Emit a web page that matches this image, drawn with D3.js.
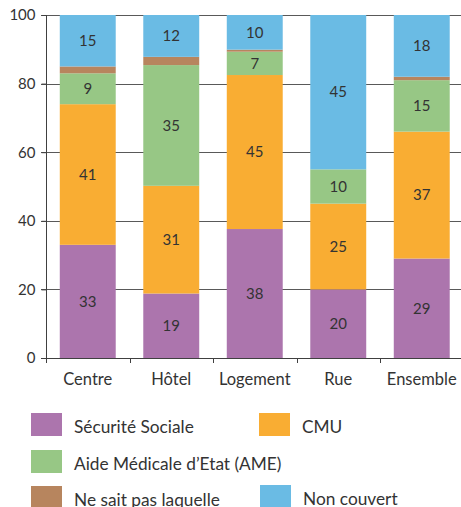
<!DOCTYPE html>
<html>
<head>
<meta charset="utf-8">
<script src="https://cdn.jsdelivr.net/npm/d3@7"></script>
<style>
  body { margin: 0; background: #fff; }
  svg { display: block; font-family: Lato, "Open Sans", sans-serif; }
</style>
</head>
<body>
<svg id="chart"></svg>
<script>
// Data
var categories = ["Centre", "Hôtel", "Logement", "Rue", "Ensemble"];
var seriesNames = ["Sécurité Sociale", "CMU", "Aide Médicale d\u2019Etat (AME)", "Ne sait pas laquelle", "Non couvert"];
var secu       = [33, 18.8, 37.6, 20, 29];
var cmu        = [41, 31.4, 44.9, 25, 37];
var ame        = [9, 35.2, 6.8, 10, 15];
var neSaitPas  = [2, 2.4, 0.6, 0, 1];
var nonCouvert = [15, 12.2, 10.1, 45, 18];
var yTicks = [0, 20, 40, 60, 80, 100];

var colors = ["#ac75ad", "#f9ad33", "#97c785", "#b7855e", "#6abbe4"];
var showLabel = [true, true, true, false, true];

var width = 461, height = 507;
var svg = d3.select("#chart").attr("width", width).attr("height", height);

// Build table rows for the stack
var keys = ["secu", "cmu", "ame", "nsp", "nc"];
var table = categories.map(function (c, i) {
    return { cat: c, secu: secu[i], cmu: cmu[i], ame: ame[i], nsp: neSaitPas[i], nc: nonCouvert[i] };
});
var stacked = d3.stack().keys(keys)(table);

var x = d3.scaleBand().domain(categories).range([46, 463.5]).paddingInner(0.33).paddingOuter(0.165);
var y = d3.scaleLinear().domain([0, 100]).range([358, 15]);

// Gridlines
svg.append("g").selectAll("line").data(yTicks.filter(function (d) { return d > 0; }))
    .enter().append("line")
    .attr("x1", 41).attr("x2", width)
    .attr("y1", function (d) { return Math.round(y(d)) + 0.5; })
    .attr("y2", function (d) { return Math.round(y(d)) + 0.5; })
    .attr("stroke", "#595959").attr("stroke-width", 1);

// Bars
var layer = svg.append("g").selectAll("g").data(stacked).enter().append("g")
    .attr("fill", function (d, i) { return colors[i]; });
layer.selectAll("rect").data(function (d) { return d; }).enter().append("rect")
    .attr("x", function (d) { return x(d.data.cat); })
    .attr("width", x.bandwidth())
    .attr("y", function (d) { return y(d[1]); })
    .attr("height", function (d) { return y(d[0]) - y(d[1]); });

// Value labels
stacked.forEach(function (s, i) {
    if (!showLabel[i]) return;
    svg.append("g").selectAll("text").data(s).enter().append("text")
        .attr("x", function (d) { return x(d.data.cat) + x.bandwidth() / 2; })
        .attr("y", function (d) { return (y(d[0]) + y(d[1])) / 2; })
        .attr("dy", "0.35em")
        .attr("text-anchor", "middle")
        .attr("font-size", 15)
        .attr("fill", "#333")
        .text(function (d) { return d3.format(".0f")(d[1] - d[0]); });
});

// Y axis
var yAxis = svg.append("g").attr("transform", "translate(46.5,0)")
    .call(d3.axisLeft(y).tickValues(yTicks).tickSize(5).tickPadding(6));
yAxis.select(".domain").attr("d", "M0," + y(100) + "V" + y(0)).attr("stroke", "#404040");
yAxis.selectAll(".tick line").attr("stroke", "#404040");
yAxis.selectAll("text").attr("font-size", 15).attr("fill", "#333").style("font-family", "Lato, 'Open Sans', sans-serif");

// X axis: baseline with ticks at band boundaries
var xg = svg.append("g");
xg.append("line").attr("x1", 41).attr("x2", width)
    .attr("y1", Math.round(y(0)) + 0.5).attr("y2", Math.round(y(0)) + 0.5).attr("stroke", "#404040");
xg.selectAll("line.tk").data(categories).enter().append("line").attr("class", "tk")
    .attr("x1", function (d) { return Math.round(x(d) - x.step() * x.paddingInner() / 2) + 0.5; })
    .attr("x2", function (d) { return Math.round(x(d) - x.step() * x.paddingInner() / 2) + 0.5; })
    .attr("y1", y(0)).attr("y2", y(0) + 5).attr("stroke", "#404040");
xg.selectAll("text").data(categories).enter().append("text")
    .attr("x", function (d) { return x(d) + x.bandwidth() / 2; })
    .attr("y", 385)
    .attr("text-anchor", "middle")
    .attr("font-size", 16.5).attr("fill", "#333")
    .text(function (d) { return d; });

// Legend
var legendPos = [[31, 413], [259, 413], [31, 450], [31, 486], [260, 485]];
var leg = svg.append("g").selectAll("g").data(seriesNames).enter().append("g")
    .attr("transform", function (d, i) { return "translate(" + legendPos[i][0] + "," + legendPos[i][1] + ")"; });
leg.append("rect").attr("width", 31).attr("height", 23)
    .attr("fill", function (d, i) { return colors[i]; });
leg.append("text").attr("x", 43).attr("y", 20)
    .attr("font-size", 17.3).attr("fill", "#333")
    .text(function (d) { return d; });
</script>
</body>
</html>
